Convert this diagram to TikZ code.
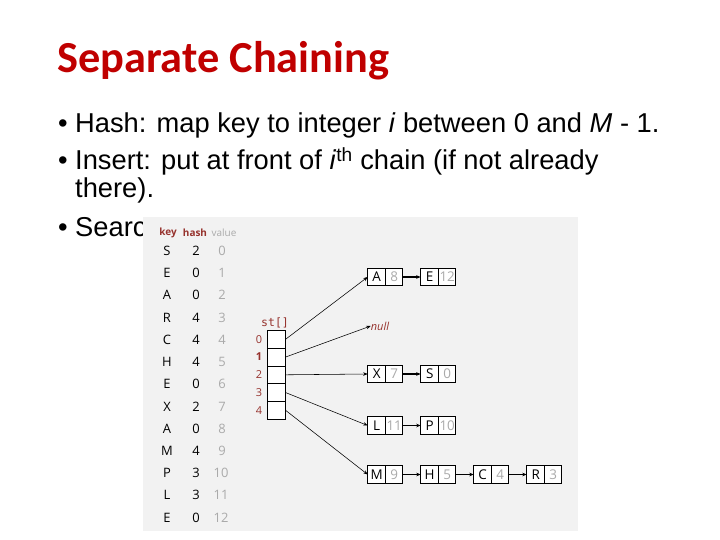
\documentclass[tikz,border=0pt]{standalone}
\usepackage{fontspec}
\setmainfont{Liberation Sans}
\newfontfamily\titlefont{Carlito}
\newfontfamily\tabfont{Open Sans}
\newfontfamily\stfont{DejaVu Sans Mono}
\usetikzlibrary{arrows.meta,positioning}
\definecolor{titlered}{RGB}{192,0,0}
\definecolor{labred}{RGB}{150,50,45}
\definecolor{valgray}{RGB}{170,170,170}
\definecolor{panelgray}{RGB}{242,242,242}

\tikzset{
	bullettext/.style={anchor=base west, inner sep=0pt, font=\fontsize{27.4}{30}\selectfont},
	tabtext/.style={inner sep=0pt, font=\tabfont\fontsize{13}{14}\selectfont},
	keycell/.style={draw, fill=white, line width=0.6bp, outer sep=0pt, inner sep=0pt,
		minimum width=18bp, minimum height=17.5bp, font=\tabfont\fontsize{13.5}{14}\selectfont},
	valcell/.style={keycell, minimum width=17bp, text=valgray},
	stcell/.style={draw, fill=white, line width=0.6bp, outer sep=0pt, inner sep=0pt,
		minimum width=18bp, minimum height=17.8bp},
	ptr/.style={-{Stealth[length=4.5bp,width=3.5bp]}, line width=0.55bp},
	link/.style={-{Stealth[length=4.5bp,width=3.5bp]}, line width=1.1bp},
}

\begin{document}
\begin{tikzpicture}[x=1bp, y=-1bp]

	\fill[white] (0,0) rectangle (720,540);
	\useasboundingbox (0,0) rectangle (720,540);

	% --- Title and bullets ---
	\node[anchor=base west, inner sep=0pt, text=titlered,
		font=\titlefont\bfseries\fontsize{44.5}{48}\selectfont] (title) at (57,73) {Separate Chaining};

	\node[bullettext] (b1) at (58,133) {\textbullet};
	\node[bullettext] (t1) at (75,133) {Hash: map key to integer \textit{i} between 0 and \textit{M} - 1.};
	\node[bullettext] (b2) at (58,170) {\textbullet};
	\node[bullettext] (t2) at (75,170) {Insert: put at front of \textit{i}\textsuperscript{th} chain (if not already};
	\node[bullettext] (t3) at (75,198) {there).};
	\node[bullettext] (b4) at (58,237) {\textbullet};
	\node[bullettext] (t4) at (75,237) {Searc};

	% --- Panel ---
	\fill[panelgray] (143,217) rectangle (578,531);

	% --- Table of keys ---
	\node[tabtext, text=labred, font=\tabfont\bfseries\fontsize{10}{12}\selectfont] (hkey) at (168,233) {key};
	\node[tabtext, text=labred, font=\tabfont\bfseries\fontsize{10}{12}\selectfont] (hhash) at (195,233) {hash};
	\node[tabtext, text=valgray, font=\tabfont\fontsize{10}{12}\selectfont] (hval) at (224,233) {value};

	\node[tabtext] (k0) at (167,251) {S}; \node[tabtext] (h0) at (196,251) {2}; \node[tabtext, text=valgray] (v0) at (222,251) {0};
	\node[tabtext] (k1) at (167,273) {E}; \node[tabtext] (h1) at (196,273) {0}; \node[tabtext, text=valgray] (v1) at (222,273) {1};
	\node[tabtext] (k2) at (167,295) {A}; \node[tabtext] (h2) at (196,295) {0}; \node[tabtext, text=valgray] (v2) at (222,295) {2};
	\node[tabtext] (k3) at (167,318) {R}; \node[tabtext] (h3) at (196,318) {4}; \node[tabtext, text=valgray] (v3) at (222,318) {3};
	\node[tabtext] (k4) at (167,340) {C}; \node[tabtext] (h4) at (196,340) {4}; \node[tabtext, text=valgray] (v4) at (222,340) {4};
	\node[tabtext] (k5) at (167,362) {H}; \node[tabtext] (h5) at (196,362) {4}; \node[tabtext, text=valgray] (v5) at (222,362) {5};
	\node[tabtext] (k6) at (167,384) {E}; \node[tabtext] (h6) at (196,384) {0}; \node[tabtext, text=valgray] (v6) at (222,384) {6};
	\node[tabtext] (k7) at (167,407) {X}; \node[tabtext] (h7) at (196,407) {2}; \node[tabtext, text=valgray] (v7) at (222,407) {7};
	\node[tabtext] (k8) at (167,429) {A}; \node[tabtext] (h8) at (196,429) {0}; \node[tabtext, text=valgray] (v8) at (222,429) {8};
	\node[tabtext] (k9) at (167,451) {M}; \node[tabtext] (h9) at (196,451) {4}; \node[tabtext, text=valgray] (v9) at (222,451) {9};
	\node[tabtext] (k10) at (167,473) {P}; \node[tabtext] (h10) at (196,473) {3}; \node[tabtext, text=valgray] (v10) at (221,473) {10};
	\node[tabtext] (k11) at (167,495) {L}; \node[tabtext] (h11) at (196,495) {3}; \node[tabtext, text=valgray] (v11) at (221,495) {11};
	\node[tabtext] (k12) at (167,518) {E}; \node[tabtext] (h12) at (196,518) {0}; \node[tabtext, text=valgray] (v12) at (221,518) {12};

	% --- st[] array ---
	\node[tabtext, text=labred, font=\stfont\fontsize{11.5}{13}\selectfont] (stlab) at (275,323) {st[]};
	\node[stcell] (st0) at (276.7,339.2) {};
	\node[stcell] (st1) at (276.7,357.0) {};
	\node[stcell] (st2) at (276.7,374.8) {};
	\node[stcell] (st3) at (276.7,392.6) {};
	\node[stcell] (st4) at (276.7,410.4) {};
	\node[tabtext, text=labred, font=\tabfont\fontsize{11}{12}\selectfont] (i0) at (259,339.2) {0};
	\node[tabtext, text=labred, font=\tabfont\bfseries\fontsize{11}{12}\selectfont] (i1) at (259,357.0) {1};
	\node[tabtext, text=labred, font=\tabfont\fontsize{11}{12}\selectfont] (i2) at (259,374.8) {2};
	\node[tabtext, text=labred, font=\tabfont\fontsize{11}{12}\selectfont] (i3) at (259,392.6) {3};
	\node[tabtext, text=labred, font=\tabfont\fontsize{11}{12}\selectfont] (i4) at (259,410.4) {4};

	% --- Chains ---
	\node[keycell] (A8k) at (376.7,277) {A}; \node[valcell, right=0pt of A8k] (A8v) {8};
	\node[keycell] (E12k) at (429.7,277) {E}; \node[valcell, right=0pt of E12k] (E12v) {12};

	\node[tabtext, text=labred, font=\tabfont\itshape\fontsize{11}{12}\selectfont] (nul) at (380,326) {null};

	\node[keycell] (X7k) at (376.7,374) {X}; \node[valcell, right=0pt of X7k] (X7v) {7};
	\node[keycell] (S0k) at (429.7,374) {S}; \node[valcell, right=0pt of S0k] (S0v) {0};

	\node[keycell] (L11k) at (376.7,425.5) {L}; \node[valcell, right=0pt of L11k] (L11v) {11};
	\node[keycell] (P10k) at (429.7,425.5) {P}; \node[valcell, right=0pt of P10k] (P10v) {10};

	\node[keycell] (M9k) at (376.7,474.5) {M}; \node[valcell, right=0pt of M9k] (M9v) {9};
	\node[keycell] (H5k) at (429.7,474.5) {H}; \node[valcell, right=0pt of H5k] (H5v) {5};
	\node[keycell] (C4k) at (482.7,474.5) {C}; \node[valcell, right=0pt of C4k] (C4v) {4};
	\node[keycell] (R3k) at (535.7,474.5) {R}; \node[valcell, right=0pt of R3k] (R3v) {3};

	% --- Pointers from st[] ---
	\draw[ptr] (st0.east) -- (A8k.west);
	\draw[ptr] (st1.east) -- (nul.west);
	\draw[ptr] (st2.east) -- (X7k.west);
	\draw[ptr] (st3.east) -- (L11k.west);
	\draw[ptr] (st4.east) -- (M9k.west);

	% --- Links along chains ---
	\draw[link] (A8v) -- (E12k);
	\draw[link] (X7v) -- (S0k);
	\draw[link] (L11v) -- (P10k);
	\draw[ptr] (M9v) -- (H5k);
	\draw[ptr] (H5v) -- (C4k);
	\draw[ptr] (C4v) -- (R3k);

\end{tikzpicture}
\end{document}
